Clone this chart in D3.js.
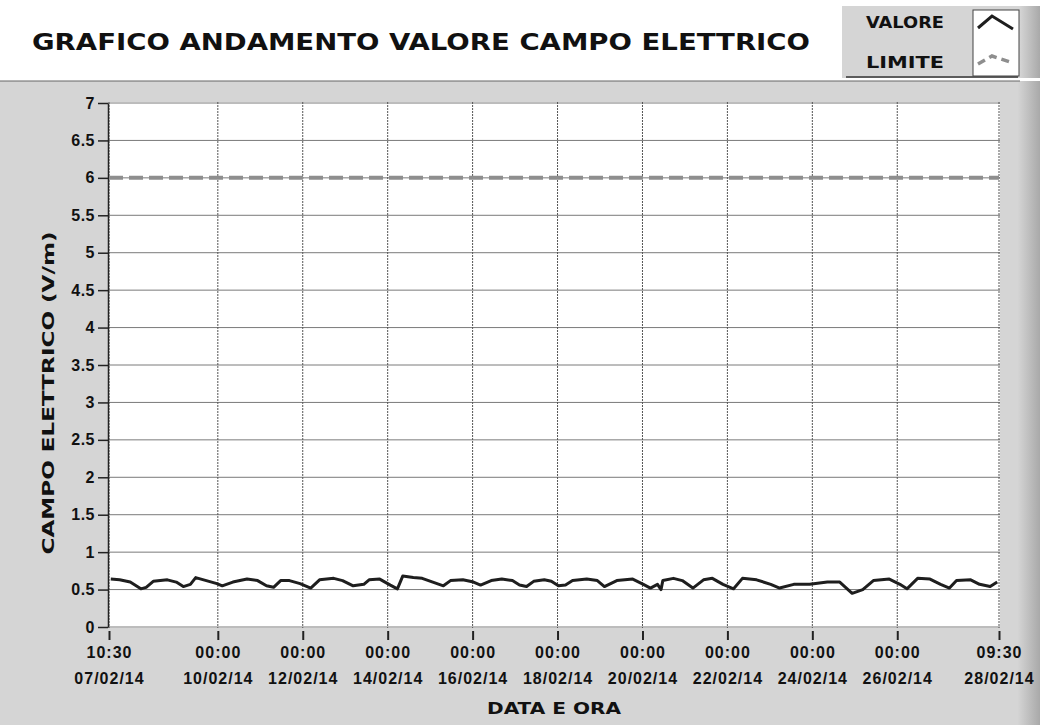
<!DOCTYPE html>
<html>
<head>
<meta charset="utf-8">
<script src="https://cdn.jsdelivr.net/npm/d3@7"></script>
<style>
  html, body { margin: 0; padding: 0; background: #ffffff; }
  svg { display: block; }
</style>
</head>
<body>
<div id="chart"></div>
<script>
// ---------------- DATA ----------------
const titleText = "GRAFICO ANDAMENTO VALORE CAMPO ELETTRICO";
const yAxisTitle = "CAMPO ELETTRICO (V/m)";
const xAxisTitle = "DATA E ORA";
const legendLabels = ["VALORE", "LIMITE"];

const startTime = "2014-02-07T10:30";
const endTime = "2014-02-28T09:30";

const xTickTimes = [
  "2014-02-07T10:30", "2014-02-10T00:00", "2014-02-12T00:00", "2014-02-14T00:00",
  "2014-02-16T00:00", "2014-02-18T00:00", "2014-02-20T00:00", "2014-02-22T00:00",
  "2014-02-24T00:00", "2014-02-26T00:00", "2014-02-28T09:30"
];
const yTicks = [0, 0.5, 1, 1.5, 2, 2.5, 3, 3.5, 4, 4.5, 5, 5.5, 6, 6.5, 7];
const yTickLabels = ["0", "0.5", "1", "1.5", "2", "2.5", "3", "3.5", "4", "4.5", "5", "5.5", "6", "6.5", "7"];

// measured series: hours elapsed since startTime, and field value (V/m)
const valoreHours = [
  1, 6, 12, 18, 21, 25, 33, 38, 42, 46, 49, 55, 61, 64, 70, 78, 84, 89, 93, 97,
  102, 108, 114, 119, 127, 132, 138, 144, 147, 153, 159, 163, 166, 172, 177, 183, 189, 193, 200, 206,
  210, 216, 222, 228, 232, 236, 240, 246, 250, 254, 258, 262, 270, 276, 280, 287, 296, 302, 306, 310,
  312, 313, 319, 324, 330, 336, 341, 347, 353, 358, 366, 374, 379, 387, 396, 406, 413, 420, 426, 432,
  441, 447, 451, 457, 464, 470, 475, 479, 487, 492, 498, 502
];
const valoreValues = [
  0.64, 0.63, 0.60, 0.51, 0.53, 0.61, 0.63, 0.60, 0.54, 0.57, 0.66, 0.62, 0.58, 0.55, 0.60, 0.64, 0.62, 0.55, 0.53, 0.62,
  0.62, 0.58, 0.52, 0.63, 0.65, 0.62, 0.55, 0.57, 0.63, 0.64, 0.56, 0.51, 0.68, 0.66, 0.65, 0.60, 0.55, 0.62, 0.63, 0.60,
  0.56, 0.62, 0.64, 0.62, 0.56, 0.54, 0.61, 0.63, 0.61, 0.55, 0.56, 0.62, 0.64, 0.62, 0.54, 0.62, 0.64, 0.57, 0.52, 0.57,
  0.50, 0.62, 0.65, 0.62, 0.52, 0.63, 0.65, 0.57, 0.51, 0.65, 0.63, 0.57, 0.52, 0.57, 0.57, 0.60, 0.60, 0.45, 0.50, 0.62,
  0.64, 0.57, 0.51, 0.65, 0.64, 0.57, 0.52, 0.62, 0.63, 0.57, 0.54, 0.60
];
// limit series
const limiteHours = [0, 503];
const limiteValues = [6, 6];

// ---------------- LAYOUT ----------------
const W = 1040, H = 725;
const parse = d3.timeParse("%Y-%m-%dT%H:%M");
const t0 = parse(startTime), t1 = parse(endTime);
const hourToDate = h => new Date(t0.getTime() + h * 3600000);

const x = d3.scaleTime().domain([t0, t1]).range([109, 999]);
const y = d3.scaleLinear().domain([0, 7]).range([627, 103]);

const svg = d3.select("#chart").append("svg").attr("width", W).attr("height", H);

// background panels
svg.append("rect").attr("x", 0).attr("y", 0).attr("width", W).attr("height", H).attr("fill", "#ffffff");
const grad = svg.append("defs").append("linearGradient").attr("id", "edge").attr("x1", 0).attr("x2", 1);
grad.append("stop").attr("offset", "0%").attr("stop-color", "#d4d4d4");
grad.append("stop").attr("offset", "100%").attr("stop-color", "#a9a9a9");
svg.append("rect").attr("x", 0).attr("y", 81).attr("width", W).attr("height", H - 81).attr("fill", "#d5d5d5");
svg.append("rect").attr("x", 1018).attr("y", 81).attr("width", 22).attr("height", H - 81).attr("fill", "url(#edge)");
svg.append("line").attr("x1", 0).attr("x2", 1020).attr("y1", 81).attr("y2", 81).attr("stroke", "#666").attr("stroke-width", 1);

// legend panel
svg.append("rect").attr("x", 842).attr("y", 6).attr("width", 198).attr("height", 72).attr("fill", "#d5d5d5");
svg.append("rect").attr("x", 1020).attr("y", 6).attr("width", 20).attr("height", 72).attr("fill", "url(#edge)");
svg.append("line").attr("x1", 846).attr("x2", 1018).attr("y1", 77).attr("y2", 77).attr("stroke", "#333").attr("stroke-width", 1.5);

// title
svg.append("text").attr("x", 32).attr("y", 50)
  .attr("font-family", "DejaVu Sans").attr("font-weight", "bold").attr("font-size", 23)
  .attr("textLength", 778).attr("lengthAdjust", "spacingAndGlyphs")
  .attr("fill", "#111").text(titleText);

// plot area
svg.append("rect").attr("x", 108).attr("y", 102).attr("width", 892).attr("height", 526).attr("fill", "#ffffff");

// grid
const grid = svg.append("g");
grid.selectAll("line.h").data(yTicks).enter().append("line")
  .attr("x1", 108).attr("x2", 1000).attr("y1", d => y(d)).attr("y2", d => y(d))
  .attr("stroke", "#7a7a7a").attr("stroke-width", 1);
grid.selectAll("line.v").data(xTickTimes.map(parse)).enter().append("line")
  .attr("x1", d => x(d)).attr("x2", d => x(d)).attr("y1", 102).attr("y2", 628)
  .attr("stroke", "#555").attr("stroke-width", 1).attr("stroke-dasharray", "2,1");

// y axis
const gy = svg.append("g").attr("transform", "translate(108,0)")
  .call(d3.axisLeft(y).tickValues(yTicks).tickSize(10).tickSizeOuter(0).tickPadding(3)
    .tickFormat((d, i) => yTickLabels[i]));
gy.select(".domain").attr("stroke", "#222").attr("stroke-width", 1.5);
gy.selectAll(".tick line").attr("stroke", "#222").attr("stroke-width", 1.5);
gy.selectAll(".tick text").attr("font-family", "Liberation Sans").attr("font-weight", "bold")
  .attr("font-size", 16).attr("fill", "#111").attr("letter-spacing", 0.5);

// x axis
const fmtT = d3.timeFormat("%H:%M"), fmtD = d3.timeFormat("%d/%m/%y");
const gx = svg.append("g").attr("transform", "translate(0,631)")
  .call(d3.axisBottom(x).tickValues(xTickTimes.map(parse)).tickSize(9).tickSizeOuter(0));
gx.select(".domain").remove();
gx.selectAll(".tick line").attr("stroke", "#222").attr("stroke-width", 2);
gx.selectAll(".tick text").each(function (d) {
  const t = d3.select(this);
  t.text(null).attr("y", null).attr("dy", null)
    .attr("font-family", "Liberation Sans").attr("font-weight", "bold")
    .attr("font-size", 16).attr("fill", "#111").attr("letter-spacing", 1);
  t.append("tspan").attr("x", 0).attr("y", 27).text(fmtT(d));
  t.append("tspan").attr("x", 0).attr("y", 53).text(fmtD(d));
});

// axis titles
svg.append("text").attr("transform", "translate(54,393) rotate(-90)")
  .attr("text-anchor", "middle")
  .attr("font-family", "DejaVu Sans").attr("font-weight", "bold").attr("font-size", 16)
  .attr("textLength", 323).attr("lengthAdjust", "spacingAndGlyphs")
  .attr("fill", "#111").text(yAxisTitle);
svg.append("text").attr("x", 554).attr("y", 714).attr("text-anchor", "middle")
  .attr("font-family", "DejaVu Sans").attr("font-weight", "bold").attr("font-size", 16)
  .attr("textLength", 134).attr("lengthAdjust", "spacingAndGlyphs")
  .attr("fill", "#111").text(xAxisTitle);

// series
const line = d3.line().x(d => x(d[0])).y(d => y(d[1]));
const limData = limiteHours.map((h, i) => [hourToDate(h), limiteValues[i]]);
const valData = valoreHours.map((h, i) => [hourToDate(h), valoreValues[i]]);
svg.append("path").datum(limData).attr("d", line)
  .attr("fill", "none").attr("stroke", "#8e8e8e").attr("stroke-width", 4).attr("stroke-dasharray", "14,6");
svg.append("path").datum(valData).attr("d", line)
  .attr("fill", "none").attr("stroke", "#1e1e1e").attr("stroke-width", 3).attr("stroke-linejoin", "round");

// legend
const lg = svg.append("g");
lg.selectAll("text").data(legendLabels).enter().append("text")
  .attr("x", 905).attr("y", (d, i) => 28 + i * 40).attr("text-anchor", "middle")
  .attr("font-family", "DejaVu Sans").attr("font-weight", "bold").attr("font-size", 15)
  .attr("textLength", 78).attr("lengthAdjust", "spacingAndGlyphs")
  .attr("fill", "#111").text(d => d);
lg.append("rect").attr("x", 973).attr("y", 10).attr("width", 46).attr("height", 66)
  .attr("fill", "#ffffff").attr("stroke", "#444").attr("stroke-width", 1);
const icon = d3.line();
lg.append("path").attr("d", icon([[978, 28], [992, 16], [1013, 29]]))
  .attr("fill", "none").attr("stroke", "#1e1e1e").attr("stroke-width", 3);
lg.append("path").attr("d", icon([[978, 64], [992, 56], [1013, 63]]))
  .attr("fill", "none").attr("stroke", "#8e8e8e").attr("stroke-width", 3.5).attr("stroke-dasharray", "8,5");
</script>
</body>
</html>
